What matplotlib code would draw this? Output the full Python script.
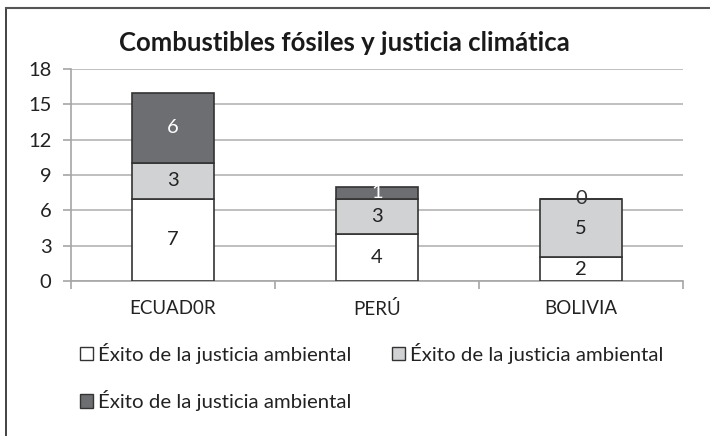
import matplotlib.pyplot as plt
import numpy as np
from matplotlib.patches import Patch
from matplotlib.lines import Line2D

plt.rcParams['font.family'] = ['Lato', 'DejaVu Sans']

countries = ["ECUAD0R", "PERÚ", "BOLIVIA"]
serie_1 = [7, 4, 2]
serie_2 = [3, 3, 5]
serie_3 = [6, 1, 0]
labels = ["Éxito de la justicia ambiental",
          "Éxito de la justicia ambiental",
          "Éxito de la justicia ambiental"]
colors = ["#FFFFFF", "#D1D2D4", "#6D6E71"]
text_colors = ["#222222", "#222222", "#FFFFFF"]

fig = plt.figure(figsize=(7.1, 4.36), dpi=100)
ax = fig.add_axes([0.1, 0.3555, 0.862, 0.486])

x = np.arange(len(countries))
bottom = np.zeros(len(countries))
for vals, col, tcol in zip([serie_1, serie_2, serie_3], colors, text_colors):
    ax.bar(x, vals, width=0.4, bottom=bottom, color=col,
           edgecolor="#333333", linewidth=1.2, zorder=3)
    for xi, v, b in zip(x, vals, bottom):
        c = tcol if v > 0 else "#333333"
        ax.text(xi, b + v / 2, str(v), ha="center", va="center",
                fontsize=14.5, color=c, zorder=4)
    bottom = bottom + np.array(vals)

ax.set_xlim(-0.5, 2.5)
ax.set_ylim(0, 18)
ax.set_yticks(range(0, 19, 3))
ax.yaxis.grid(True, color="#B4B4B4", linewidth=1.2, zorder=0)
ax.set_xticks(x)
ax.set_xticklabels(countries)
ax.set_xticks([-0.5, 0.5, 1.5, 2.5], minor=True)
ax.tick_params(axis="x", which="major", length=0, pad=14, labelsize=13.5,
               labelcolor="#222222")
ax.tick_params(axis="x", which="minor", length=6, color="#A6A6A6", width=1.2)
ax.tick_params(axis="y", length=6, color="#A6A6A6", width=1.2, labelsize=14.5,
               pad=8, labelcolor="#222222")
for s in ["top", "right"]:
    ax.spines[s].set_visible(False)
for s in ["left", "bottom"]:
    ax.spines[s].set_color("#A6A6A6")
    ax.spines[s].set_linewidth(1.2)

fig.text(0.485, 0.901, "Combustibles fósiles y justicia climática",
         ha="center", va="center", fontsize=18.5, fontweight="bold", color="#1A1A1A")

# legend fills column-wise, so reorder to get row-wise layout
order = [0, 2, 1]
handles = [Patch(facecolor=colors[i], edgecolor="#333333") for i in order]
fig.legend(handles, [labels[i] for i in order], loc="upper left",
           bbox_to_anchor=(0.113, 0.214), ncol=2, frameon=False, fontsize=14.7,
           handlelength=0.63, handleheight=0.63, handletextpad=0.25,
           labelspacing=1.3, columnspacing=2.0, borderpad=0, borderaxespad=0,
           labelcolor="#222222")

# outer frame
fig.add_artist(Line2D([0.0085, 0.0085], [0, 0.982], color="#222222", lw=1.2))
fig.add_artist(Line2D([0.0085, 1.0], [0.982, 0.982], color="#555555", lw=1.5))

fig.savefig("out.png", dpi=100)
